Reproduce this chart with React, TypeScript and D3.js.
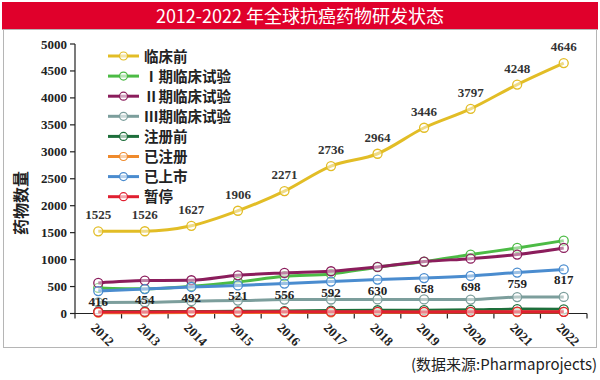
import React from "react";
import * as d3 from "d3";

const years = ["2012","2013","2014","2015","2016","2017","2018","2019","2020","2021","2022"];
const yTicks = [0,500,1000,1500,2000,2500,3000,3500,4000,4500,5000];
const seriesNames = ["临床前","Ⅰ期临床试验","Ⅱ期临床试验","Ⅲ期临床试验","注册前","已注册","已上市","暂停"];
const seriesColors = ["#e2bd26","#4cbb45","#8b1d5c","#7c9e9c","#1d6e3a","#ef8a2c","#4a8ccf","#e01f30"];
const preclinical = [1525,1526,1627,1906,2271,2736,2964,3446,3797,4248,4646];
const phase1 = [475,457,506,586,691,735,860,960,1093,1216,1352];
const phase2 = [568,611,617,709,753,784,864,963,1018,1093,1216];
const phase3 = [205,208,228,240,258,260,262,262,258,305,308];
const preRegistration = [35,36,38,40,45,55,60,62,68,82,78];
const registered = [15,16,18,17,20,22,24,25,26,28,30];
const launched = [416,454,492,521,556,592,630,658,698,759,817];
const suspended = [28,30,31,30,32,33,32,30,31,33,32];
const allSeries = [preclinical,phase1,phase2,phase3,preRegistration,registered,launched,suspended];

const W = 600, H = 380;
const M = { left: 75, right: 587, top: 44, bottom: 313.5 };

export default function App() {
  const x = d3.scaleBand<string>().domain(years).range([M.left, M.right]);
  const y = d3.scaleLinear().domain([0, 5000]).range([M.bottom, M.top]);
  const cx = (yr: string) => (x(yr) as number) + x.bandwidth() / 2;
  const line = d3.line<number>()
    .x((_, i) => cx(years[i]))
    .y((d) => y(d))
    .curve(d3.curveMonotoneX);
  const serif = "'Liberation Serif','Times New Roman',serif";
  const sans = "'Noto Sans CJK SC','Noto Sans',sans-serif";
  const bounds = [...years.map((yr) => x(yr) as number), M.right];

  return (
    <svg width={W} height={H} style={{ position: "absolute", left: 0, top: 0, background: "#fff" }}>
      <rect x={2} y={2} width={596} height={27.5} fill="#e0002b" />
      <text x={300} y={22.5} textAnchor="middle" fill="#fff" fontFamily={sans} fontSize={18}>
        2012-2022 年全球抗癌药物研发状态
      </text>
      <rect x={3.5} y={29.5} width={593} height={318} fill="none" stroke="#b5b5b5" strokeWidth={1} />

      {/* y axis */}
      <line x1={M.left} x2={M.left} y1={M.top} y2={M.bottom} stroke="#222" strokeWidth={1.2} />
      {yTicks.map((t) => (
        <g key={t}>
          <line x1={M.left - 5} x2={M.left} y1={y(t)} y2={y(t)} stroke="#222" strokeWidth={1.2} />
          <text x={M.left - 8} y={y(t) + 4.5} textAnchor="end" fontFamily={serif} fontWeight="bold" fontSize={13} fill="#222">
            {t}
          </text>
        </g>
      ))}
      <text transform={`translate(27,${203}) rotate(-90)`} textAnchor="middle" fontFamily={sans} fontWeight="bold" fontSize={16} fill="#222">
        药物数量
      </text>

      {/* x axis */}
      <line x1={M.left} x2={M.right} y1={M.bottom} y2={M.bottom} stroke="#222" strokeWidth={1.2} />
      {bounds.map((b, i) => (
        <line key={i} x1={b} x2={b} y1={M.bottom} y2={M.bottom + 5} stroke="#222" strokeWidth={1.2} />
      ))}
      {years.map((yr) => (
        <text key={yr} transform={`translate(${cx(yr) - 8},${M.bottom + 15}) rotate(45)`} fontFamily={serif} fontWeight="bold" fontSize={13} fill="#222">
          {yr}
        </text>
      ))}

      {/* series */}
      {allSeries.map((vals, si) => (
        <g key={si}>
          <path d={line(vals) as string} fill="none" stroke={seriesColors[si]} strokeWidth={3} />
          {vals.map((v, i) => (
            <circle key={i} cx={cx(years[i])} cy={y(v)} r={4.5} fill="#fff" fillOpacity={0.45} stroke={seriesColors[si]} strokeWidth={1.3} />
          ))}
        </g>
      ))}

      {/* value labels */}
      {preclinical.map((v, i) => (
        <text key={"p" + i} x={cx(years[i])} y={y(v) - 12} textAnchor="middle" fontFamily={serif} fontWeight="bold" fontSize={13} fill="#333">
          {v}
        </text>
      ))}
      {launched.map((v, i) => (
        <text key={"l" + i} x={cx(years[i])} y={y(v) + 15} textAnchor="middle" fontFamily={serif} fontWeight="bold" fontSize={13} fill="#222">
          {v}
        </text>
      ))}

      {/* legend */}
      {seriesNames.map((n, i) => {
        const ly = 56 + i * 20.1;
        return (
          <g key={n}>
            <line x1={108} x2={139} y1={ly} y2={ly} stroke={seriesColors[i]} strokeWidth={3} />
            <circle cx={123.5} cy={ly} r={4} fill="#fff" fillOpacity={0.6} stroke={seriesColors[i]} strokeWidth={1.2} />
            <text x={144} y={ly + 5.5} fontFamily={sans} fontWeight="bold" fontSize={14.5} fill="#222">
              {n}
            </text>
          </g>
        );
      })}

      <text x={597} y={370} textAnchor="end" fontFamily={sans} fontSize={15} fill="#222">
        (数据来源:Pharmaprojects)
      </text>
    </svg>
  );
}
